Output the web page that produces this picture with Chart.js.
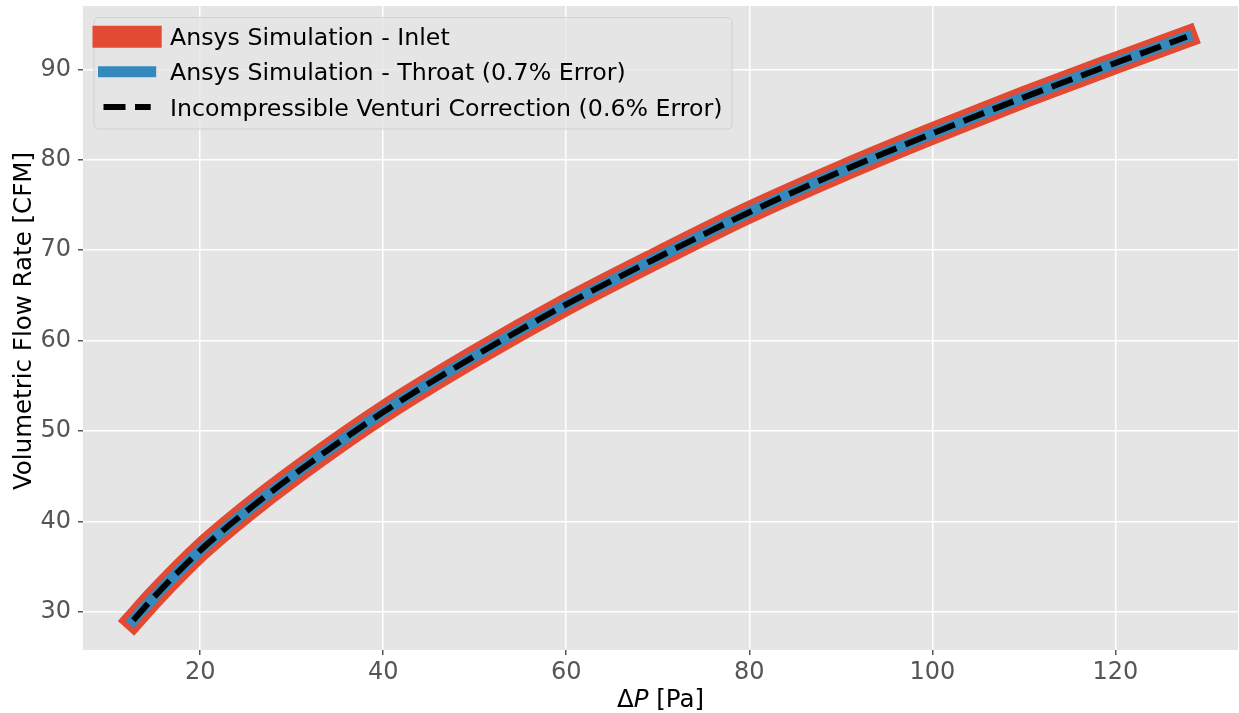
<!DOCTYPE html>
<html>
<head>
<meta charset="utf-8">
<script src="https://cdn.jsdelivr.net/npm/chart.js@4/dist/chart.umd.min.js"></script>
<style>
  html, body { margin: 0; padding: 0; background: #ffffff; }
  #wrap { width: 1239px; height: 713px; position: relative; }
</style>
</head>
<body>
<div id="wrap"><canvas id="c" width="1239" height="713"></canvas></div>
<script>
// ---- Data ----
const pressureDrop = [12.7, 15, 20, 25, 30, 40, 50, 60, 70, 80, 90, 100, 110, 120, 127.8];
const inletFlow    = [29.1, 31.7, 36.8, 41.1, 45.0, 52.1, 58.3, 64.0, 69.2, 74.2, 78.7, 82.9, 86.9, 90.7, 93.6];
const throatFlow   = [29.1, 31.7, 36.8, 41.1, 45.0, 52.1, 58.3, 64.0, 69.2, 74.2, 78.7, 82.9, 86.9, 90.7, 93.6];
const venturiFlow  = [29.1, 31.7, 36.8, 41.1, 45.0, 52.1, 58.3, 64.0, 69.2, 74.2, 78.7, 82.9, 86.9, 90.7, 93.6];
const seriesLabels = [
  'Ansys Simulation - Inlet',
  'Ansys Simulation - Throat (0.7% Error)',
  'Incompressible Venturi Correction (0.6% Error)'
];
const xTicks = [20, 40, 60, 80, 100, 120];
const yTicks = [30, 40, 50, 60, 70, 80, 90];
// x title pieces: "Δ" + italic "P" + " [Pa]"
const xTitleParts = [['Δ', false], ['P', true], [' [Pa]', false]];
const yTitle = 'Volumetric Flow Rate [CFM]';

const FONT = "'DejaVu Sans', sans-serif";
const toPts = (xs, ys) => xs.map((x, i) => ({ x: x, y: ys[i] }));

const bgPlugin = {
  id: 'bg',
  beforeDraw(chart) {
    const { ctx, chartArea: a } = chart;
    ctx.save();
    ctx.fillStyle = '#E5E5E5';
    ctx.fillRect(a.left, a.top, a.right - a.left, a.bottom - a.top);
    ctx.restore();
  }
};

const titlesPlugin = {
  id: 'axisTitles',
  afterDraw(chart) {
    const ctx = chart.ctx;
    const a = chart.chartArea;
    const size = 24.5;
    ctx.save();
    ctx.fillStyle = '#000000';
    ctx.textBaseline = 'alphabetic';
    ctx.textAlign = 'left';
    let total = 0;
    const widths = xTitleParts.map(([t, it]) => {
      ctx.font = (it ? 'italic ' : '') + size + 'px ' + FONT;
      const w = ctx.measureText(t).width;
      total += w;
      return w;
    });
    let x = (a.left + a.right) / 2 - total / 2;
    xTitleParts.forEach(([t, it], i) => {
      ctx.font = (it ? 'italic ' : '') + size + 'px ' + FONT;
      ctx.fillText(t, x, 707);
      x += widths[i];
    });
    // y title
    ctx.translate(31, 321);
    ctx.rotate(-Math.PI / 2);
    ctx.font = size + 'px ' + FONT;
    ctx.textAlign = 'center';
    ctx.fillText(yTitle, 0, 0);
    ctx.restore();
  }
};

const legendPlugin = {
  id: 'mplLegend',
  afterDatasetsDraw(chart) {
    const ctx = chart.ctx;
    const bx = 94, by = 17.5, bw = 638, bh = 111.5, r = 5;
    ctx.save();
    ctx.beginPath();
    ctx.moveTo(bx + r, by);
    ctx.lineTo(bx + bw - r, by);
    ctx.quadraticCurveTo(bx + bw, by, bx + bw, by + r);
    ctx.lineTo(bx + bw, by + bh - r);
    ctx.quadraticCurveTo(bx + bw, by + bh, bx + bw - r, by + bh);
    ctx.lineTo(bx + r, by + bh);
    ctx.quadraticCurveTo(bx, by + bh, bx, by + bh - r);
    ctx.lineTo(bx, by + r);
    ctx.quadraticCurveTo(bx, by, bx + r, by);
    ctx.closePath();
    ctx.fillStyle = 'rgba(229,229,229,0.8)';
    ctx.fill();
    ctx.strokeStyle = 'rgba(204,204,204,0.8)';
    ctx.lineWidth = 1;
    ctx.stroke();

    const rows = [36.7, 71.7, 107];
    const baselines = [45, 80.2, 115.5];
    const x0 = 103.5, x1 = 150.7;
    chart.data.datasets.forEach((ds, i) => {
      ctx.save();
      ctx.beginPath();
      ctx.strokeStyle = ds.borderColor;
      ctx.lineWidth = ds.borderWidth;
      ctx.lineCap = ds.borderCapStyle || 'butt';
      ctx.setLineDash(ds.borderDash || []);
      ctx.moveTo(x0, rows[i]);
      ctx.lineTo(x1, rows[i]);
      ctx.stroke();
      ctx.restore();
      ctx.fillStyle = '#000000';
      ctx.font = "23.7px " + FONT;
      ctx.textBaseline = 'alphabetic';
      ctx.textAlign = 'left';
      ctx.fillText(ds.label, 170, baselines[i]);
    });
    ctx.restore();
  }
};

new Chart(document.getElementById('c'), {
  type: 'line',
  data: {
    datasets: [
      {
        label: seriesLabels[0],
        data: toPts(pressureDrop, inletFlow),
        borderColor: '#E24A33',
        borderWidth: 22,
        borderCapStyle: 'square',
        borderJoinStyle: 'round',
        pointRadius: 0,
        cubicInterpolationMode: 'monotone',
        fill: false,
        order: 3
      },
      {
        label: seriesLabels[1],
        data: toPts(pressureDrop, throatFlow),
        borderColor: '#348ABD',
        borderWidth: 11,
        borderCapStyle: 'square',
        borderJoinStyle: 'round',
        pointRadius: 0,
        cubicInterpolationMode: 'monotone',
        fill: false,
        order: 2
      },
      {
        label: seriesLabels[2],
        data: toPts(pressureDrop, venturiFlow),
        borderColor: '#000000',
        borderWidth: 6,
        borderDash: [22, 9.5],
        borderCapStyle: 'butt',
        pointRadius: 0,
        cubicInterpolationMode: 'monotone',
        fill: false,
        order: 1
      }
    ]
  },
  options: {
    responsive: false,
    animation: false,
    devicePixelRatio: 1,
    layout: { padding: { top: 6, right: 1, left: 0, bottom: 0 } },
    plugins: {
      legend: { display: false },
      tooltip: { enabled: false }
    },
    scales: {
      x: {
        type: 'linear',
        min: 7.2,
        max: 133.4,
        afterBuildTicks: (axis) => { axis.ticks = xTicks.map(v => ({ value: v })); },
        afterFit: (axis) => { axis.height = 63; axis.paddingLeft = 0; axis.paddingRight = 0; },
        border: { display: false },
        grid: { color: '#FFFFFF', lineWidth: 1.5, tickColor: '#555555', tickLength: 5, drawTicks: true },
        ticks: {
          color: '#555555',
          font: { family: FONT, size: 24 },
          padding: 3,
          maxRotation: 0,
          autoSkip: false
        },
        title: { display: false }
      },
      y: {
        type: 'linear',
        min: 25.8,
        max: 97.0,
        afterBuildTicks: (axis) => { axis.ticks = yTicks.map(v => ({ value: v })); },
        afterFit: (axis) => { axis.width = 83; axis.paddingTop = 0; axis.paddingBottom = 0; },
        border: { display: false },
        grid: { color: '#FFFFFF', lineWidth: 1.5, tickColor: '#555555', tickLength: 5, drawTicks: true },
        ticks: {
          color: '#555555',
          font: { family: FONT, size: 24 },
          padding: 7,
          autoSkip: false
        },
        title: { display: false }
      }
    }
  },
  plugins: [bgPlugin, legendPlugin, titlesPlugin]
});
</script>
</body>
</html>
